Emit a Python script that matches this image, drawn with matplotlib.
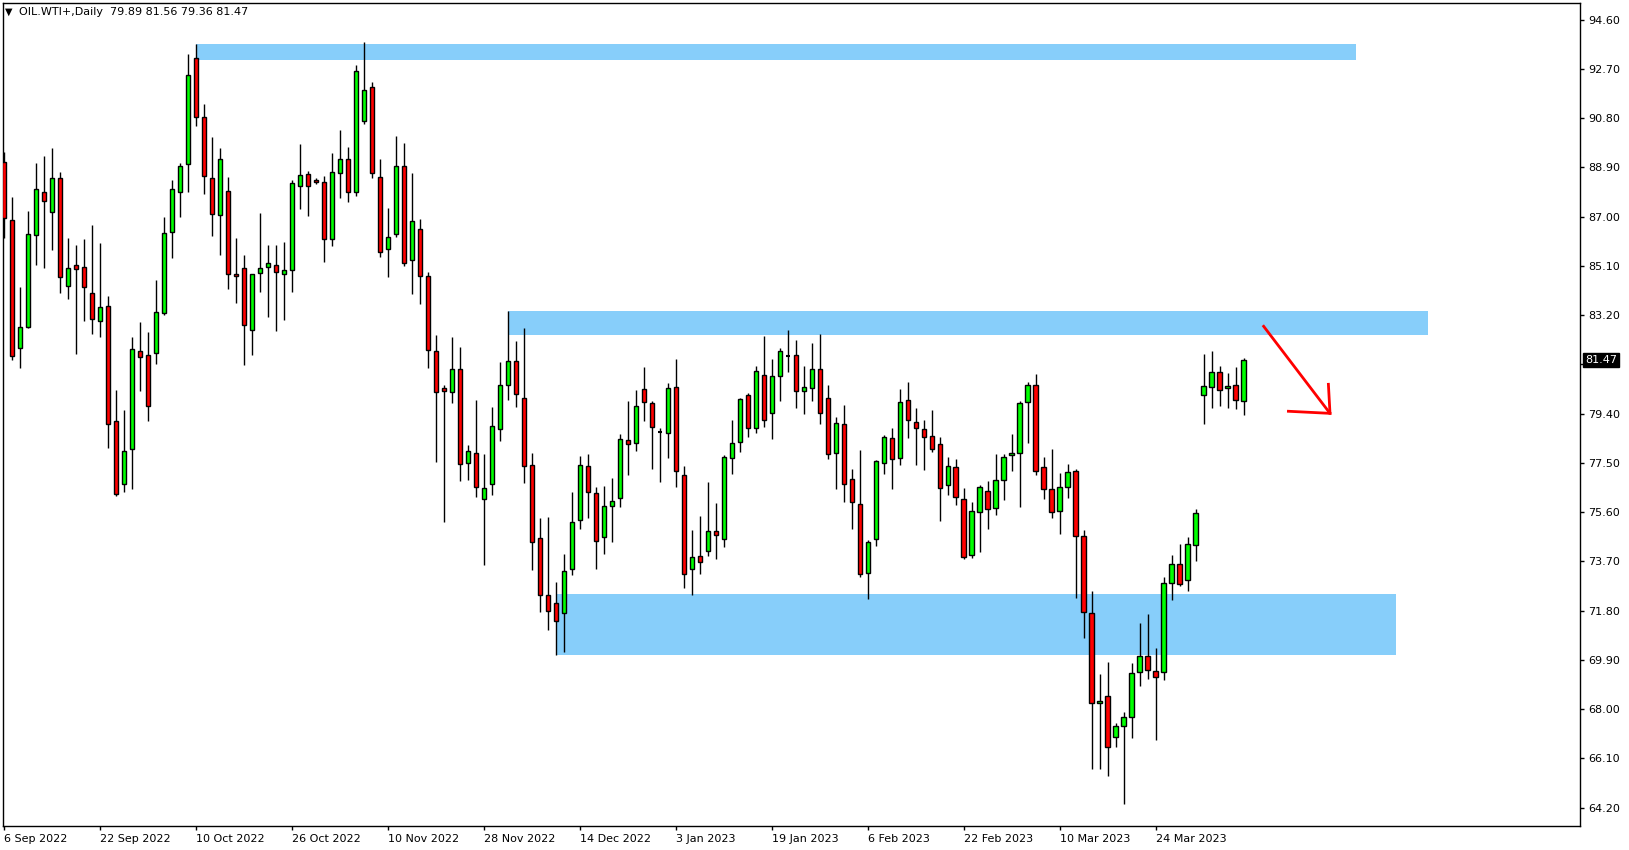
import matplotlib
matplotlib.use("Agg")
import matplotlib.pyplot as plt
from matplotlib.patches import Rectangle

# ---------------- data ----------------
opens = [89.12, 86.87, 81.92, 82.76, 86.29, 87.95, 87.19, 88.48, 84.34, 85.12,
         85.05, 84.04, 82.99, 83.55, 79.11, 76.67, 78.05, 81.82, 81.66, 81.73,
         83.27, 86.40, 87.94, 89.02, 93.11, 90.83, 88.48, 87.05, 87.99, 84.79,
         85.01, 82.62, 84.81, 85.05, 85.12, 84.77, 84.93, 88.17, 88.63, 88.40,
         88.32, 86.12, 88.67, 89.21, 87.94, 90.68, 91.99, 88.52, 85.74, 86.32,
         88.94, 85.31, 86.51, 84.70, 81.80, 80.38, 80.22, 81.11, 77.51, 77.87,
         76.10, 76.68, 78.80, 80.50, 81.42, 80.00, 77.41, 74.60, 72.40, 72.09,
         71.70, 73.40, 75.29, 77.37, 76.33, 74.63, 75.83, 76.14, 78.38, 78.26,
         80.34, 79.80, 78.70, 78.64, 80.41, 77.02, 73.39, 73.89, 74.09, 74.86,
         74.55, 77.67, 78.29, 80.10, 78.83, 80.88, 79.41, 80.84, 81.61, 81.65,
         80.26, 80.37, 81.11, 79.99, 77.87, 78.98, 76.86, 75.90, 73.24, 74.55,
         77.48, 78.45, 77.68, 79.91, 79.07, 78.80, 78.53, 78.22, 76.63, 77.33,
         76.09, 73.93, 75.59, 76.40, 75.75, 76.83, 77.79, 77.87, 79.84, 80.49,
         77.33, 76.48, 75.63, 76.56, 77.18, 74.67, 71.70, 68.23, 68.50, 66.92,
         67.34, 67.69, 69.42, 70.04, 69.46, 69.42, 72.86, 73.59, 72.97, 74.32,
         80.11, 80.42, 81.00, 80.38, 80.50, 79.89]
highs = [89.51, 87.77, 84.27, 87.23, 89.08, 89.32, 89.66, 88.74, 86.17, 85.91,
         86.14, 86.68, 86.00, 83.94, 80.31, 79.54, 82.35, 82.95, 82.56, 84.56,
         87.00, 88.42, 89.08, 93.28, 93.66, 91.35, 90.09, 89.65, 88.54, 86.18,
         85.52, 84.78, 87.14, 85.91, 85.91, 86.02, 88.41, 89.80, 88.76, 88.48,
         88.57, 89.45, 90.34, 89.69, 92.84, 93.74, 92.18, 89.21, 87.32, 90.11,
         89.84, 88.67, 86.90, 84.85, 82.43, 80.50, 82.36, 81.97, 78.19, 79.93,
         77.85, 79.66, 81.40, 83.37, 82.21, 82.70, 77.87, 75.37, 75.41, 72.90,
         73.98, 76.37, 77.76, 77.84, 76.56, 76.60, 76.91, 78.61, 79.88, 80.32,
         81.21, 79.88, 78.86, 80.59, 81.51, 77.38, 74.91, 75.45, 76.76, 75.95,
         77.80, 79.15, 79.99, 80.18, 81.24, 82.39, 81.49, 81.92, 82.62, 82.24,
         81.22, 82.12, 82.47, 80.49, 79.25, 79.72, 77.25, 78.00, 74.53, 77.61,
         78.56, 78.83, 80.35, 80.62, 79.61, 79.14, 79.53, 78.49, 77.71, 77.64,
         76.52, 75.98, 76.64, 76.79, 77.83, 77.83, 78.60, 79.88, 80.61, 80.92,
         77.71, 78.04, 77.10, 77.45, 77.25, 74.90, 72.55, 69.35, 69.82, 67.46,
         67.88, 69.78, 71.33, 71.66, 70.35, 73.09, 73.94, 74.36, 74.63, 75.71,
         81.70, 81.82, 81.24, 80.97, 81.20, 81.56]
lows = [86.17, 81.47, 81.15, 82.69, 85.14, 85.03, 85.71, 84.07, 83.82, 81.70,
        82.98, 82.47, 82.37, 78.09, 76.22, 76.38, 76.49, 80.28, 79.12, 81.33,
        83.21, 85.42, 87.00, 87.94, 90.50, 87.88, 86.27, 85.52, 84.22, 83.68,
        81.28, 81.66, 84.11, 83.14, 82.60, 83.01, 84.10, 87.31, 87.04, 88.25,
        85.26, 85.88, 87.73, 87.58, 87.81, 90.59, 88.50, 85.46, 84.68, 86.23,
        85.11, 84.03, 83.64, 81.17, 77.55, 75.23, 79.82, 76.81, 76.84, 76.20,
        73.57, 76.27, 78.36, 79.91, 79.64, 76.74, 73.37, 71.73, 71.07, 70.08,
        70.22, 73.19, 74.93, 75.38, 73.39, 74.00, 74.43, 75.79, 77.03, 77.94,
        79.13, 77.28, 76.77, 77.70, 76.58, 72.68, 72.41, 73.22, 73.92, 73.80,
        74.27, 77.08, 77.93, 78.50, 78.66, 78.88, 78.43, 79.90, 81.02, 79.63,
        79.40, 79.90, 79.01, 77.63, 76.50, 76.00, 74.93, 73.11, 72.24, 74.31,
        77.08, 76.51, 77.43, 78.44, 77.43, 77.24, 77.91, 75.27, 76.27, 75.89,
        73.78, 73.81, 74.08, 74.96, 75.50, 76.08, 77.20, 75.81, 78.28, 77.05,
        76.09, 75.39, 74.75, 76.14, 72.28, 70.73, 65.68, 65.68, 65.41, 66.53,
        64.33, 66.88, 68.88, 69.15, 66.80, 69.11, 72.19, 72.74, 72.57, 73.73,
        78.98, 79.60, 79.71, 79.63, 79.56, 79.36]
closes = [86.94, 81.63, 82.73, 86.32, 88.06, 87.62, 88.48, 84.66, 85.01, 84.99,
          84.27, 83.04, 83.50, 79.01, 76.28, 77.95, 81.88, 81.60, 79.71, 83.31,
          86.36, 88.06, 88.96, 92.45, 90.83, 88.58, 87.09, 89.21, 84.78, 84.70,
          82.80, 84.78, 85.01, 85.20, 84.85, 84.93, 88.28, 88.59, 88.17, 88.32,
          86.12, 88.71, 89.21, 87.94, 92.61, 91.87, 88.67, 85.62, 86.20, 88.94,
          85.20, 86.82, 84.72, 81.84, 80.22, 80.26, 81.11, 77.44, 77.95, 76.55,
          76.52, 78.92, 80.50, 81.42, 80.15, 77.36, 74.44, 72.40, 71.78, 71.39,
          73.32, 75.21, 77.41, 76.37, 74.48, 75.83, 76.02, 78.41, 78.22, 79.69,
          79.84, 78.88, 78.70, 80.37, 77.17, 73.20, 73.88, 73.66, 74.86, 74.70,
          77.71, 78.25, 79.95, 78.83, 81.03, 79.14, 80.84, 81.80, 81.61, 80.26,
          80.41, 81.11, 79.41, 77.83, 79.02, 76.67, 75.98, 73.20, 74.44, 77.56,
          78.49, 77.64, 79.84, 79.14, 78.83, 78.49, 78.02, 76.52, 77.37, 76.17,
          73.86, 75.63, 76.56, 75.71, 76.83, 77.71, 77.87, 79.80, 80.49, 77.17,
          76.48, 75.60, 76.56, 77.14, 74.67, 71.74, 68.23, 68.30, 66.53, 67.34,
          67.69, 69.38, 70.04, 69.50, 69.23, 72.86, 73.59, 72.82, 74.36, 75.56,
          80.46, 81.00, 80.30, 80.46, 79.92, 81.47]

date_labels = ["6 Sep 2022", "22 Sep 2022", "10 Oct 2022", "26 Oct 2022",
               "10 Nov 2022", "28 Nov 2022", "14 Dec 2022", "3 Jan 2023",
               "19 Jan 2023", "6 Feb 2023", "22 Feb 2023", "10 Mar 2023",
               "24 Mar 2023"]
label_step = 12
price_ticks = [64.20, 66.10, 68.00, 69.90, 71.80, 73.70, 75.60, 77.50, 79.40,
               81.30, 83.20, 85.10, 87.00, 88.90, 90.80, 92.70, 94.60]

# zones: (start bar, end bar, low price, high price)
zone_start = [24, 63, 69]
zone_end = [169, 178, 174]
zone_low = [93.05, 82.45, 70.10]
zone_high = [93.66, 83.36, 72.44]

# arrow (bar, price)
arrow_x = [157.4, 165.8]
arrow_y = [82.81, 79.41]
head_left = (160.6, 79.49)
head_up = (165.6, 80.53)

last_price = closes[-1]
header = "OIL.WTI+,Daily  %.2f %.2f %.2f %.2f" % (opens[-1], highs[-1], lows[-1], closes[-1])

# ---------------- figure ----------------
W, H = 1629, 850
fig = plt.figure(figsize=(W / 100, H / 100), dpi=100)
fig.patch.set_facecolor("white")
ax = fig.add_axes([2.5 / W, 1 - 826 / H, (1579.5 - 2.5) / W, (826 - 2.5) / H])
ax.set_facecolor("white")

n = len(opens)
xs = list(range(n))

zone_color = "#87CEFA"
for s, e, lo, hi in zip(zone_start, zone_end, zone_low, zone_high):
    ax.add_patch(Rectangle((s, lo), e - s, hi - lo, facecolor=zone_color,
                           edgecolor="none", zorder=1))

ax.vlines(xs, lows, highs, color="black", linewidth=1.0, zorder=2)

body_w = 0.56
for i in xs:
    o, c = opens[i], closes[i]
    if abs(c - o) < 1e-9:
        ax.hlines(o, i - body_w / 2, i + body_w / 2, color="black", linewidth=1.5, zorder=3)
        continue
    col = "#00FF00" if c > o else "#FF0000"
    ax.bar(i, abs(c - o), bottom=min(o, c), width=body_w, color=col,
           edgecolor="black", linewidth=1.0, zorder=3)

# arrow
ax.plot(arrow_x, arrow_y, color="#FF0000", linewidth=2, zorder=4, solid_capstyle="butt")
ax.plot([head_left[0], arrow_x[1]], [head_left[1], arrow_y[1]], color="#FF0000", linewidth=2, zorder=4)
ax.plot([head_up[0], arrow_x[1]], [head_up[1], arrow_y[1]], color="#FF0000", linewidth=2, zorder=4)

ax.set_xlim(-0.2, 197.0)
ax.set_ylim(63.49, 95.26)

for sp in ax.spines.values():
    sp.set_color("black")
    sp.set_linewidth(1.0)

ax.yaxis.tick_right()
ax.set_yticks(price_ticks)
# the tick label hidden behind the current-price tag is left blank
ax.set_yticklabels(["" if abs(p - last_price) < 0.5 else "%.2f" % p for p in price_ticks])
ax.tick_params(axis="y", direction="out", length=3, width=1, pad=3,
               labelsize=8, colors="black")

ax.set_xticks([k * label_step for k in range(len(date_labels))])
ax.set_xticklabels(date_labels)
ax.tick_params(axis="x", direction="out", length=3, width=1, pad=3,
               labelsize=8, colors="black")
for lab in ax.get_xticklabels():
    lab.set_horizontalalignment("left")

# current price tag
ax.text(1.0035, last_price, "%.2f" % last_price, transform=ax.get_yaxis_transform(),
        ha="left", va="center", fontsize=8, color="white", zorder=10,
        bbox=dict(boxstyle="square,pad=0.2", facecolor="black", edgecolor="black"),
        clip_on=False)

# header
fig.text(5 / W, 1 - 12 / H, "\u25BC", fontsize=7, color="black", ha="left", va="center")
fig.text(19 / W, 1 - 12 / H, header, fontsize=8, color="black", ha="left", va="center")

fig.savefig("out.png", dpi=100, facecolor="white")
